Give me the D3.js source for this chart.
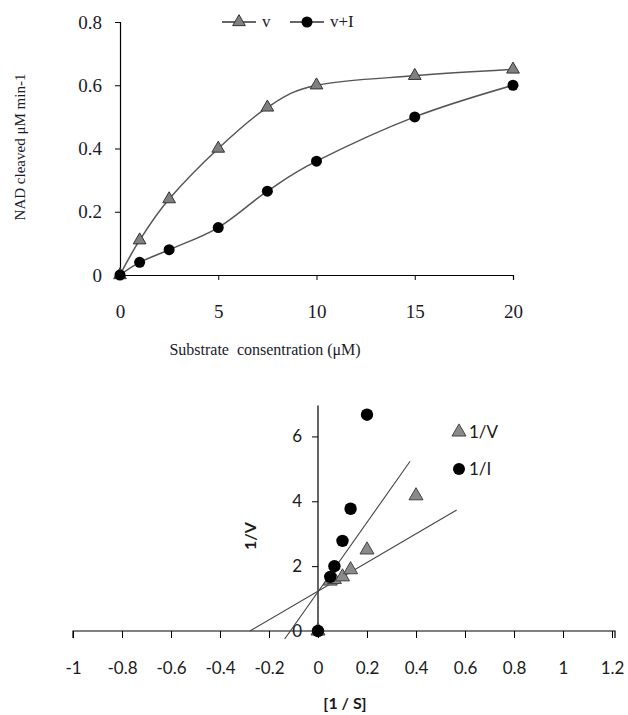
<!DOCTYPE html>
<html>
<head>
<meta charset="utf-8">
<script src="https://cdn.jsdelivr.net/npm/d3@7"></script>
<style>
  body { margin: 0; background: #fff; }
  svg { display: block; }
  .serif { font-family: "Liberation Serif", "Times New Roman", serif; fill: #1a1a2a; }
  .sans { font-family: Lato, "Open Sans", sans-serif; fill: #1a1a1a; }
</style>
</head>
<body>
<svg id="chart" width="628" height="715"></svg>
<script>
'use strict';

// top chart: velocity vs substrate
var substrate = [0, 1, 2.5, 5, 7.5, 10, 15, 20];
var vValues = [0, 0.11, 0.24, 0.40, 0.53, 0.60, 0.63, 0.65];
var viValues = [0, 0.04, 0.08, 0.15, 0.265, 0.36, 0.50, 0.60];
var topXTicks = [0, 5, 10, 15, 20];
var topYTicks = [0, 0.2, 0.4, 0.6, 0.8];

// bottom chart: Lineweaver-Burk
var invS = [0, 0.05, 0.067, 0.1, 0.133, 0.2, 0.4];
var invV = [0, 1.54, 1.59, 1.67, 1.89, 2.5, 4.17];
var invSI = [0, 0.05, 0.067, 0.1, 0.133, 0.2];
var invI = [0, 1.67, 2.0, 2.78, 3.77, 6.67];
var trendV = { slope: 4.42, intercept: 1.23, from: -0.278, to: 0.566 };
var trendI = { slope: 10.7, intercept: 1.21, from: -0.136, to: 0.376 };
var botXTicks = [-1, -0.8, -0.6, -0.4, -0.2, 0, 0.2, 0.4, 0.6, 0.8, 1, 1.2];
var botYTicks = [0, 2, 4, 6];

var svg = d3.select("#chart");
var tri = d3.symbol().type(d3.symbolTriangle).size(70);
var triBig = d3.symbol().type(d3.symbolTriangle).size(85);

function drawTop() {
    var x = d3.scaleLinear().domain([0, 20]).range([120, 513]);
    var y = d3.scaleLinear().domain([0, 0.8]).range([275, 22]);
    var g = svg.append("g");

    var xAxis = g.append("g").attr("transform", "translate(0,275)")
        .call(d3.axisBottom(x).tickValues(topXTicks).tickSize(5).tickPadding(25).tickFormat(d3.format("d")));
    var yAxis = g.append("g").attr("transform", "translate(120,0)")
        .call(d3.axisLeft(y).tickValues(topYTicks).tickSize(5).tickPadding(13).tickFormat(function (d) { return d === 0 ? "0" : d3.format(".1f")(d); }));
    [xAxis, yAxis].forEach(function (a) {
        a.select(".domain").attr("stroke", "#000").attr("stroke-width", 1.2);
        a.selectAll(".tick line").attr("stroke", "#000");
        a.selectAll("text").attr("class", "serif").style("font-size", "19px").attr("fill", null);
    });

    var line = d3.line().curve(d3.curveCardinal.tension(0))
        .x(function (d) { return x(d[0]); }).y(function (d) { return y(d[1]); });

    var vData = d3.zip(substrate, vValues);
    var viData = d3.zip(substrate, viValues);

    g.append("path").attr("d", line(vData)).attr("fill", "none").attr("stroke", "#555").attr("stroke-width", 1.5);
    g.append("path").attr("d", line(viData)).attr("fill", "none").attr("stroke", "#555").attr("stroke-width", 1.5);

    g.selectAll(".vpt").data(vData).enter().append("path")
        .attr("d", tri).attr("transform", function (d) { return "translate(" + x(d[0]) + "," + y(d[1]) + ")"; })
        .attr("fill", "#808080").attr("stroke", "#333").attr("stroke-width", 1);
    g.selectAll(".vipt").data(viData).enter().append("circle")
        .attr("cx", function (d) { return x(d[0]); }).attr("cy", function (d) { return y(d[1]); })
        .attr("r", 5.5).attr("fill", "#000");

    // legend
    var lg = g.append("g").attr("transform", "translate(222,22)");
    lg.append("line").attr("x1", 0).attr("x2", 34).attr("stroke", "#333").attr("stroke-width", 1.5);
    lg.append("path").attr("d", tri).attr("transform", "translate(17,0)").attr("fill", "#808080").attr("stroke", "#333");
    lg.append("text").attr("class", "serif").attr("x", 40).attr("y", 5).style("font-size", "17px").text("v");
    lg.append("line").attr("x1", 68).attr("x2", 102).attr("stroke", "#333").attr("stroke-width", 1.5);
    lg.append("circle").attr("cx", 85).attr("r", 5.5).attr("fill", "#000");
    lg.append("text").attr("class", "serif").attr("x", 108).attr("y", 5).style("font-size", "17px").text("v+I");

    g.append("text").attr("class", "serif").attr("x", 265).attr("y", 355)
        .attr("text-anchor", "middle").style("font-size", "16px").attr("xml:space", "preserve")
        .text("Substrate  consentration (\u03bcM)");
    g.append("text").attr("class", "serif").attr("transform", "translate(25,147) rotate(-90)")
        .attr("text-anchor", "middle").style("font-size", "15px")
        .text("NAD cleaved \u03bcM min-1");
}

function drawBottom() {
    var x = d3.scaleLinear().domain([-1, 1.2]).range([73, 612]);
    var y = d3.scaleLinear().domain([0, 7]).range([631, 404]);
    var g = svg.append("g");

    var xAxis = g.append("g").attr("transform", "translate(0,631)")
        .call(d3.axisBottom(x).tickValues(botXTicks).tickSize(7).tickPadding(24).tickFormat(function (d) { return String(+d.toFixed(1)); }));
    var yAxis = g.append("g").attr("transform", "translate(" + x(0) + ",0)")
        .call(d3.axisLeft(y).tickValues(botYTicks).tickSize(6).tickPadding(10).tickFormat(d3.format("d")));
    [xAxis, yAxis].forEach(function (a) {
        a.select(".domain").attr("stroke", "#000").attr("stroke-width", 1.2);
        a.selectAll(".tick line").attr("stroke", "#000");
        a.selectAll("text").attr("class", "sans").style("font-size", "17px").attr("fill", null);
    });
    xAxis.select(".domain").attr("d", "M" + x(-1) + ",7V0H" + (x(1.2) + 3) + "V7");
    yAxis.select(".domain").attr("d", "M-6," + y(0) + "H0V" + y(6.95));

    [trendV, trendI].forEach(function (t) {
        g.append("line")
            .attr("x1", x(t.from)).attr("y1", y(t.intercept + t.slope * t.from))
            .attr("x2", x(t.to)).attr("y2", y(t.intercept + t.slope * t.to))
            .attr("stroke", "#444").attr("stroke-width", 1.1);
    });

    var vData = d3.zip(invS, invV);
    var iData = d3.zip(invSI, invI);
    g.selectAll(".tp").data(vData).enter().append("path")
        .attr("d", triBig).attr("transform", function (d) { return "translate(" + x(d[0]) + "," + y(d[1]) + ")"; })
        .attr("fill", "#8a8a8a").attr("stroke", "#444").attr("stroke-width", 1);
    g.selectAll(".cp").data(iData).enter().append("circle")
        .attr("cx", function (d) { return x(d[0]); }).attr("cy", function (d) { return y(d[1]); })
        .attr("r", 6.2).attr("fill", "#000");

    var lg = g.append("g").attr("transform", "translate(459,432)");
    lg.append("path").attr("d", triBig).attr("fill", "#8a8a8a").attr("stroke", "#444");
    lg.append("text").attr("class", "sans").attr("x", 10).attr("y", 6).style("font-size", "17px").text("1/V");
    lg.append("circle").attr("cy", 37).attr("r", 6).attr("fill", "#000");
    lg.append("text").attr("class", "sans").attr("x", 10).attr("y", 43).style("font-size", "17px").text("1/I");

    g.append("text").attr("class", "sans").attr("x", 345).attr("y", 709)
        .attr("text-anchor", "middle").style("font-size", "16px").style("font-weight", "bold").text("[1 / S]");
    g.append("text").attr("class", "sans").attr("transform", "translate(256,536) rotate(-90)")
        .attr("text-anchor", "middle").style("font-size", "16px").style("font-weight", "bold").text("1/V");
}

drawTop();
drawBottom();
</script>
</body>
</html>
